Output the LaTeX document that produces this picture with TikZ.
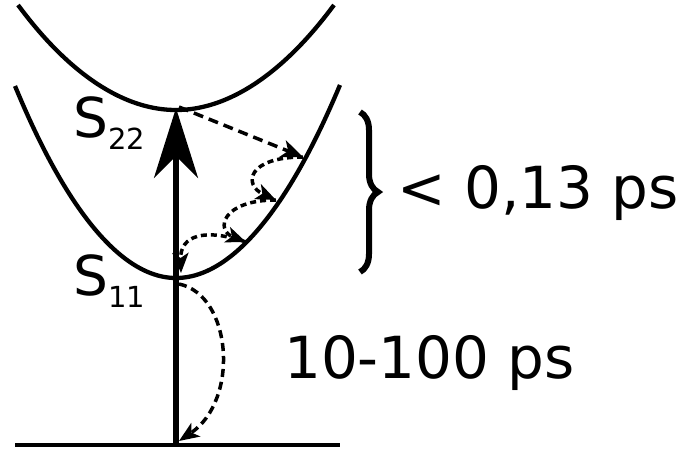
\documentclass[tikz,border=0pt]{standalone}
\usepackage{fontspec}
\setmainfont{DejaVu Sans}
\usetikzlibrary{arrows.meta,decorations.pathreplacing}
\newcommand\lvlsub[1]{\raisebox{-12pt}{\fontsize{29}{29}\selectfont#1}}

\begin{document}
\begin{tikzpicture}[
x=1pt,y=-1pt,
curve/.style={line width=4.3pt},
level/.style={inner sep=0pt,anchor=base west,font=\fontsize{55}{55}\selectfont},
timing/.style={inner sep=0pt,anchor=base west,font=\fontsize{58}{58}\selectfont},
pump/.style={-{Stealth[length=70pt,width=44pt,inset=22pt]},line width=5.5pt},
relax/.style={-{Stealth[length=22pt,width=18pt,inset=6pt]},line width=3.5pt,dash pattern=on 10pt off 6pt},
hop/.style={-{Stealth[length=20pt,width=16pt,inset=5pt]},line width=3.5pt,dash pattern=on 6pt off 4pt}
]
\useasboundingbox (0,0) rectangle (681,451);
\coordinate (s22) at (176,110);
\coordinate (s11) at (176,278);
\coordinate (g) at (176,445);
\coordinate (k1) at (303,157);
\coordinate (k2) at (276,200);
\coordinate (k3) at (246,242);
\coordinate (k4) at (181,273);
\coordinate (d1) at (179,284);
\coordinate (d2) at (179,441);
\coordinate (bt) at (360,112);
\coordinate (bb) at (360,272);

\draw[curve] (18,5) parabola bend (s22) (334,5);
\draw[curve] (15,86) parabola bend (s11) (340,85);
\draw[curve] (15,445) -- (340,445);

\node[level] (l22) at (73,137) {S\lvlsub{22}};
\node[level] (l11) at (73,295) {S\lvlsub{11}};
\node[timing] (fast) at (397,208) {< 0,13 ps};
\node[timing] (slow) at (284,378) {10-100 ps};

\draw[pump] (g) -- ([yshift=2pt]s22);
\draw[relax] ([xshift=3pt,yshift=3pt]s22) -- (k1);
\draw[hop] (k1) .. controls (247,157) and (243,185) .. (k2);
\draw[hop] (k2) .. controls (222,200) and (215,230) .. (k3);
\draw[hop] (k3) .. controls (205,228) and (180,235) .. (k4);
\draw[hop,dash pattern=on 8pt off 5pt] (d1) .. controls (232,295) and (240,400) .. (d2);
\draw[line width=6pt,decorate,decoration={brace,amplitude=18pt}] (bt) -- (bb);
\end{tikzpicture}
\end{document}
